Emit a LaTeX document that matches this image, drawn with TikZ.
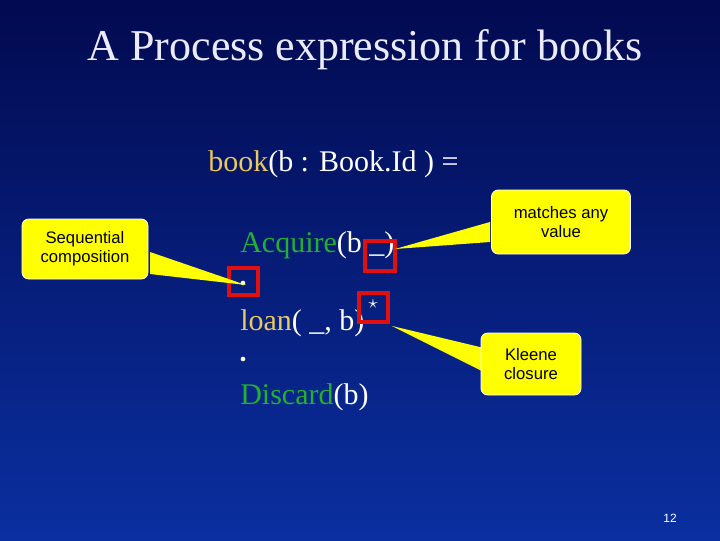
\documentclass[tikz,border=0pt]{standalone}
\usepackage{fontspec}
\setmainfont{Liberation Serif}
\newfontfamily\callfont{Liberation Sans}
\definecolor{bgtop}{HTML}{020A50}
\definecolor{bgbot}{HTML}{0A2FA0}
\definecolor{ylw}{HTML}{FFFF00}
\definecolor{bookc}{HTML}{E8C860}
\definecolor{grn}{HTML}{22B030}
\definecolor{redb}{HTML}{E01010}
\begin{document}
\begin{tikzpicture}[x=0.75pt,y=-0.75pt,
  txt/.style={text=white,anchor=base west,inner sep=0pt,font=\fontsize{22.5}{25}\selectfont},
  callout/.style={fill=ylw,draw=white,line width=0.6pt,rounded corners=5pt,align=center,font=\callfont\fontsize{12.5}{14}\selectfont,text=black},
  redbox/.style={draw=redb,line width=2.6pt},
  wedge/.style={fill=ylw,draw=none},
  dotn/.style={fill=white,circle,inner sep=0pt,minimum size=3.5pt}]
\shade[top color=bgtop,bottom color=bgbot] (0,0) rectangle (720,540);
\useasboundingbox (0,0) rectangle (720,540);
\node[text=white!92!blue,font=\fontsize{33}{36}\selectfont] (title) at (365,50) {A Process expression for books};
\node[txt] (book) at (208,171) {\textcolor{bookc}{book}(b : Book.Id ) =};
\node[txt] (acq) at (240,252) {\textcolor{grn}{Acquire}(b \_)};
\node[dotn] (dot1) at (243,283) {};
\node[txt] (loan) at (240,330) {\textcolor{bookc}{loan}( \_, b)};
\node[font=\fontsize{15}{15}\selectfont,text=white,inner sep=0pt] (star) at (373,304) {$\star$};
\node[dotn] (dot2) at (243,359) {};
\node[txt] (disc) at (240,404) {\textcolor{grn}{Discard}(b)};
% red boxes
\draw[redb,redbox] (365,241) rectangle (395,271);
\draw[redb,redbox] (229,268) rectangle (258,295);
\draw[redb,redbox] (359,293) rectangle (388,322);
\coordinate (p1) at (246,285);
\coordinate (p2) at (395,249);
\coordinate (p3) at (392,326);
% wedges
\fill[wedge] (150,252) -- (p1) -- (150,274) -- cycle;
\fill[wedge] (490,222) -- (p2) -- (490,242) -- cycle;
\fill[wedge] (484,348) -- (p3) -- (484,372) -- cycle;
\node[callout,minimum width=126pt*0.75,minimum height=60pt*0.75] (seq) at (85,249) {Sequential\\composition};
\node[callout,minimum width=139pt*0.75,minimum height=64pt*0.75] (match) at (561,222) {matches any\\value};
\node[callout,minimum width=100pt*0.75,minimum height=62pt*0.75,anchor=center] (kleene) at (531,364) {Kleene\\closure};
\node[text=white,font=\callfont\fontsize{9}{10}\selectfont] (pg) at (670,518) {12};
\end{tikzpicture}
\end{document}
